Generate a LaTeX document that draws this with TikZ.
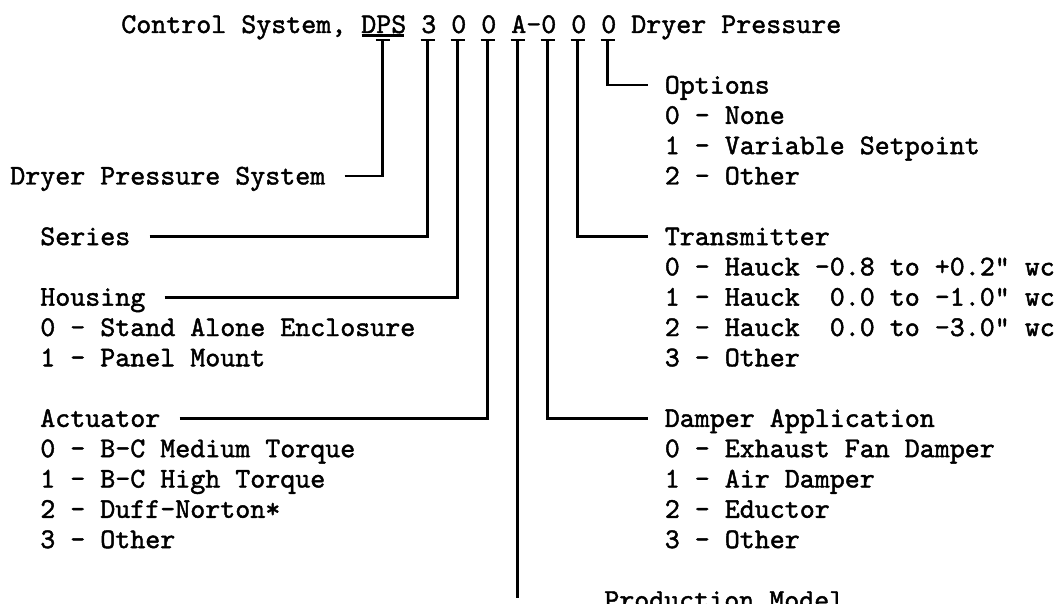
\documentclass[tikz,border=0pt]{standalone}
\usepackage{fontspec}
\setmonofont{lmmono10-regular.otf}[FakeBold=1.5]
\usetikzlibrary{calc}

\begin{document}
\begin{tikzpicture}[x=1pt, y=-1pt, line width=2.6pt,
		txt/.style={inner sep=0pt, anchor=base west, text height=17pt, text depth=0pt,
			font=\fontsize{28.57}{30.3}\selectfont\ttfamily},
		tee/.style={line width=2.4pt}]
		\def\bl{33}\def\rp{30.3}\def\ch{15}\def\lx{9}\def\ix{39}\def\rx{663.5}
		\useasboundingbox (0,0) rectangle (1062,604);
		% header and the code letters
		\node[txt] (head) at (120,\bl) {Control System, DPS 3 0 0 A-0 0 0 Dryer Pressure};
		\foreach \nm/\k in {tDPS/17, tSer/20, tHou/22, tAct/24, tMod/26, tDam/28, tTra/30, tOpt/32}
			\coordinate (\nm) at ($(head.base west)+({\k*\ch+7.5},7)$);
		\draw[tee] ($(head.base west)+({16*\ch+1.5},2.5)$) -- ($(head.base west)+({19*\ch-1.5},2.5)$);
		\foreach \nm in {tDPS,tSer,tHou,tAct,tMod,tDam,tTra,tOpt}
			\draw[tee] ([xshift=-7pt]\nm) -- ([xshift=7pt]\nm);
		% left side
		\node[txt] (system) at (\lx,{\bl+5*\rp}) {Dryer Pressure System};
		\node[txt] (series) at (\ix,{\bl+7*\rp}) {Series};
		\node[txt] (housing) at (\ix,{\bl+9*\rp}) {Housing};
		\foreach \t [count=\i from 10] in {0 - Stand Alone Enclosure, 1 - Panel Mount}
			\node[txt] (housing-\i) at (\ix,{\bl+\i*\rp}) {\t};
		\node[txt] (actuator) at (\ix,{\bl+13*\rp}) {Actuator};
		\foreach \t [count=\i from 14] in {0 - B-C Medium Torque, 1 - B-C High Torque, 2 - Duff-Norton*, 3 - Other}
			\node[txt] (actuator-\i) at (\ix,{\bl+\i*\rp}) {\t};
		% right side
		\node[txt] (options) at (\rx,{\bl+2*\rp}) {Options};
		\foreach \t [count=\i from 3] in {0 - None, 1 - Variable Setpoint, 2 - Other}
			\node[txt] (options-\i) at (\rx,{\bl+\i*\rp}) {\t};
		\node[txt] (transmitter) at (\rx,{\bl+7*\rp}) {Transmitter};
		\foreach \t [count=\i from 8] in {0 - Hauck -0.8 to +0.2" wc, 1 - Hauck~~0.0 to -1.0" wc, 2 - Hauck~~0.0 to -3.0" wc, 3 - Other}
			\node[txt] (transmitter-\i) at (\rx,{\bl+\i*\rp}) {\t};
		\node[txt] (damper) at (\rx,{\bl+13*\rp}) {Damper Application};
		\foreach \t [count=\i from 14] in {0 - Exhaust Fan Damper, 1 - Air Damper, 2 - Eductor, 3 - Other}
			\node[txt] (damper-\i) at (\rx,{\bl+\i*\rp}) {\t};
		\node[txt] (production) at (603,{\bl+19*\rp}) {Production Model};
		\coordinate (modEnd) at (517.5,598);
		% leaders
		\draw[shorten <=18pt] (system.east) -| (tDPS);
		\draw[shorten <=18pt] (series.east) -| (tSer);
		\draw[shorten <=18pt] (housing.east) -| (tHou);
		\draw[shorten <=18pt] (actuator.east) -| (tAct);
		\draw[shorten >=16pt] (tOpt) |- (options.west);
		\draw[shorten >=16pt] (tTra) |- (transmitter.west);
		\draw[shorten >=16pt] (tDam) |- (damper.west);
		\draw (tMod) -- (modEnd);
	\end{tikzpicture}
\end{document}
